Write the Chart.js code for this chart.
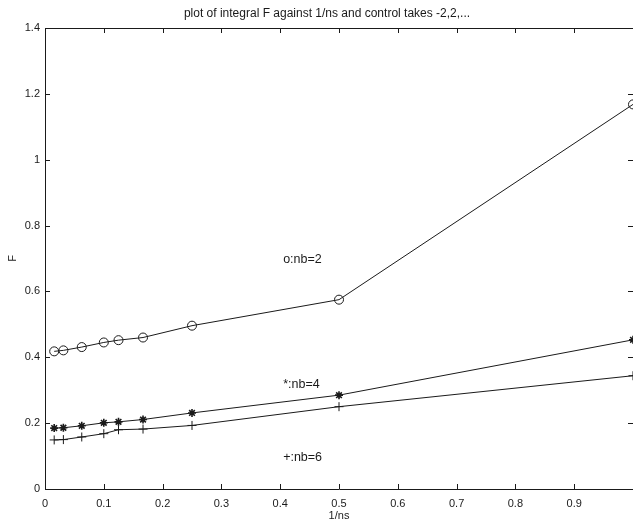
<!DOCTYPE html>
<html lang="en">
<head>
    <meta charset="UTF-8">
    <title>plot of integral F against 1/ns</title>
    <script src="https://cdn.jsdelivr.net/npm/chart.js"></script>
    <style>
        body { margin: 0; background: #fff; }
    </style>
</head>
<body>
    <canvas id="chart" width="633" height="527"></canvas>

    <script>
        // 1/ns values (ns = 64, 32, 16, 10, 8, 6, 4, 2, 1)
        const invNs = [0.015625, 0.03125, 0.0625, 0.1, 0.125, 0.1667, 0.25, 0.5, 1];

        // F values
        const fNb2 = [0.418, 0.421, 0.431, 0.445, 0.452, 0.460, 0.496, 0.575, 1.168];
        const fNb4 = [0.185, 0.186, 0.192, 0.201, 0.204, 0.211, 0.231, 0.285, 0.453];
        const fNb6 = [0.149, 0.150, 0.158, 0.168, 0.180, 0.182, 0.193, 0.250, 0.344];

        const titleText = 'plot of integral F against 1/ns and control takes -2,2,...';

        // text notes placed in data units
        const noteText = ['o:nb=2', '*:nb=4', '+:nb=6'];
        const noteX = [0.405, 0.405, 0.405];
        const noteY = [0.697, 0.318, 0.097];

        const ink = '#1a1a1a';
        const font = "'Liberation Sans', Arial, sans-serif";

        function points(ys) {
            return invNs.map((x, i) => ({ x: x, y: ys[i] }));
        }

        // Matlab-style frame with inward ticks, the title and the text notes
        const framePlugin = {
            id: 'frame',
            afterDatasetsDraw(chart) {
                const ctx = chart.ctx;
                const a = chart.chartArea;
                const xs = chart.scales.x;
                const ys = chart.scales.y;
                const len = 5;
                ctx.save();
                ctx.strokeStyle = ink;
                ctx.lineWidth = 1;
                ctx.beginPath();
                ctx.rect(a.left + 0.5, a.top + 0.5, a.right - a.left, a.bottom - a.top);
                xs.ticks.forEach(t => {
                    const px = Math.round(xs.getPixelForValue(t.value)) + 0.5;
                    ctx.moveTo(px, a.bottom);
                    ctx.lineTo(px, a.bottom - len);
                    ctx.moveTo(px, a.top);
                    ctx.lineTo(px, a.top + len);
                });
                ys.ticks.forEach(t => {
                    const py = Math.round(ys.getPixelForValue(t.value)) + 0.5;
                    ctx.moveTo(a.left, py);
                    ctx.lineTo(a.left + len, py);
                    ctx.moveTo(a.right, py);
                    ctx.lineTo(a.right - len, py);
                });
                ctx.stroke();

                ctx.fillStyle = ink;
                ctx.font = '12px ' + font;
                ctx.textAlign = 'center';
                ctx.textBaseline = 'alphabetic';
                ctx.fillText(titleText, 327, 17);

                ctx.font = '12.5px ' + font;
                ctx.textBaseline = 'middle';
                ctx.textAlign = 'left';
                noteText.forEach((s, i) => {
                    ctx.fillText(s, xs.getPixelForValue(noteX[i]), ys.getPixelForValue(noteY[i]));
                });
                ctx.restore();
            }
        };

        const ctx = document.getElementById('chart').getContext('2d');
        new Chart(ctx, {
            type: 'scatter',
            data: {
                datasets: [
                    {
                        label: 'nb=2',
                        data: points(fNb2),
                        showLine: true,
                        borderColor: ink,
                        borderWidth: 1,
                        backgroundColor: 'rgba(0,0,0,0)',
                        pointStyle: 'circle',
                        pointRadius: 4.5,
                        pointBorderWidth: 1,
                        pointBorderColor: ink
                    },
                    {
                        label: 'nb=4',
                        data: points(fNb4),
                        showLine: true,
                        borderColor: ink,
                        borderWidth: 1,
                        backgroundColor: ink,
                        pointStyle: 'star',
                        pointRadius: 4,
                        pointBorderWidth: 1.6,
                        pointBorderColor: ink
                    },
                    {
                        label: 'nb=6',
                        data: points(fNb6),
                        showLine: true,
                        borderColor: ink,
                        borderWidth: 1,
                        backgroundColor: ink,
                        pointStyle: 'cross',
                        pointRadius: 4.5,
                        pointBorderWidth: 1,
                        pointBorderColor: ink
                    }
                ]
            },
            options: {
                responsive: false,
                animation: false,
                layout: { autoPadding: false, padding: { left: 0, right: 0, top: 28, bottom: 0 } },
                plugins: {
                    legend: { display: false },
                    tooltip: { enabled: false },
                    title: { display: false }
                },
                scales: {
                    x: {
                        type: 'linear',
                        min: 0,
                        max: 1,
                        grid: { display: false, drawTicks: false },
                        border: { display: false },
                        ticks: {
                            stepSize: 0.1,
                            color: ink,
                            padding: 8,
                            maxRotation: 0,
                            font: { family: font, size: 11 },
                            callback: v => (v === 1 ? '' : Math.round(v * 10) / 10)
                        },
                        title: {
                            display: true,
                            text: '1/ns',
                            color: ink,
                            font: { family: font, size: 11 },
                            padding: { top: 0, bottom: 4 }
                        },
                        afterFit(scale) {
                            scale.height = 38;
                            scale.paddingLeft = 0;
                            scale.paddingRight = 0;
                        }
                    },
                    y: {
                        type: 'linear',
                        min: 0,
                        max: 1.4,
                        grid: { display: false, drawTicks: false },
                        border: { display: false },
                        ticks: {
                            stepSize: 0.2,
                            color: ink,
                            padding: 5,
                            font: { family: font, size: 11 },
                            callback: v => Math.round(v * 10) / 10
                        },
                        title: {
                            display: true,
                            text: 'F',
                            color: ink,
                            font: { family: font, size: 11 },
                            padding: { top: 6, bottom: 0 }
                        },
                        afterFit(scale) {
                            scale.width = 45;
                            scale.paddingTop = 0;
                            scale.paddingBottom = 0;
                        }
                    }
                }
            },
            plugins: [framePlugin]
        });
    </script>
</body>
</html>
